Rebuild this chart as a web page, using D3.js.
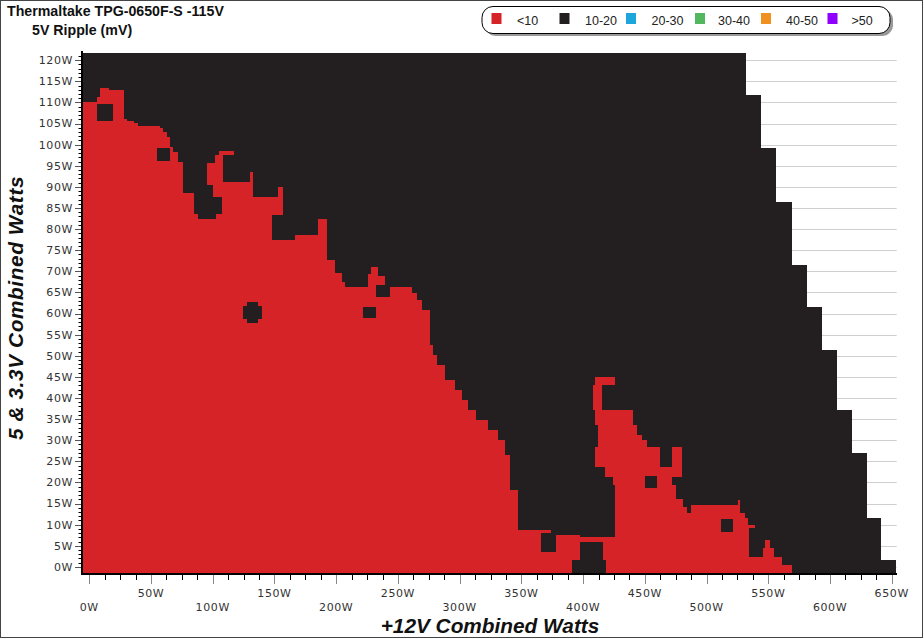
<!DOCTYPE html>
<html><head><meta charset="utf-8">
<script src="https://cdn.jsdelivr.net/npm/d3@7"></script>
<style>body{margin:0;background:#fff}svg{display:block}</style>
</head><body><svg id="c" width="924" height="639"></svg>
<script>
const chartTitle = "Thermaltake TPG-0650F-S -115V";
const chartSubtitle = "5V Ripple (mV)";
const xTitle = "+12V Combined Watts";
const yTitle = "5 & 3.3V Combined Watts";
const xTicks = [0,50,100,150,200,250,300,350,400,450,500,550,600,650];
const yTicks = [0,5,10,15,20,25,30,35,40,45,50,55,60,65,70,75,80,85,90,95,100,105,110,115,120];
const legendLabels = ["<10","10-20","20-30","30-40","40-50",">50"];
const legendColors = ["#d62328","#231f20","#1ca6dc","#52b75f","#f0911f","#8f00ff"];

// load limit (measured area): each band runs from previous band's lower y down to limitMinY, x up to limitMaxX
const limitMinY = [111.7, 99.2, 86.4, 71.5, 61.5, 51.4, 37.2, 27.0, 11.6, 1.7, -1.45];
const limitMaxX = [532, 544.1, 556.3, 569.2, 581.4, 593.5, 605.7, 617.8, 630, 641.3, 653.5];

// "<10" main region, top profile: [x0, x1, yTop] (red from bottom up to yTop)
const redColumns = [
  [-5.1,6.2,110.1],[6.2,8.7,111.3],[8.7,16.0,113.4],[16.0,28.1,113.0],[28.1,30.5,106.1],
  [30.5,36.2,105.6],[36.2,39.4,105.1],[39.4,57.3,104.4],[57.3,59.7,103.9],[59.7,62.9,103.0],
  [62.9,65.4,101.8],[65.4,67.8,99.5],[67.8,71.9,98.3],[71.9,75.9,95.9],[75.9,84.8,88.6],
  [84.8,88.1,83.6],[88.1,102.6,82.4],[102.6,107.2,83.6],[107.2,130.2,91.2],[130.2,132.6,93.5],
  [132.6,152.8,87.7],[152.8,156.7,90.0],[156.7,166.6,77.4],[166.6,185.3,78.6],[185.3,192.3,82.3],
  [192.3,199.0,72.7],[199.0,204.5,69.6],[204.5,207.1,67.5],[207.1,225.8,66.3],[225.8,228.2,69.3],
  [228.2,233.8,71.0],[233.8,239.5,69.0],[239.5,261.4,66.3]
];
// "<10" main region, right profile: [yLow, yHigh, xRight] (red from left edge to xRight)
const redRows = [
  [64.9,66.3,261.4],[63.2,64.9,265.4],[60.9,63.2,269.5],[52.6,60.9,275.9],[50.2,52.6,278.4],
  [47.8,50.2,281.6],[44.3,47.8,288.1],[41.9,44.3,296.3],[39.5,41.9,301.9],[37.2,39.5,306.8],
  [34.8,37.2,313.2],[32.4,34.8,323.0],[30.1,32.4,331.1],[26.5,30.1,336.7],[18.2,26.5,340.8],
  [8.8,18.2,347.3],[-1.45,8.8,397.5]
];
// "10-20" cuts inside the red region: [x0, x1, yLow, yHigh]
const blackCuts = [
  [148.0,156.7,77.4,83.4],[373.9,399.9,7.6,8.8]
];
// additional "<10" areas: [x0, x1, yLow, yHigh]
const redPatches = [
  [95.1,108.3,90.5,95.7],[100.4,108.3,87.6,90.5],[102.0,108.3,95.7,97.6],[105.2,117.2,97.6,98.5],
  [409.6,425.8,43.1,45.0],[408.0,415.1,37.2,43.1],[409.6,440.4,33.6,37.2],[412.1,443.7,31.3,33.6],
  [412.1,447.7,30.1,31.3],[412.1,451.9,28.4,30.1],[409.6,462.3,23.7,28.4],[472.0,480.1,23.7,28.4],
  [417.7,480.1,21.3,23.7],[424.2,472.0,19.4,21.3],[425.8,475.3,16.1,19.4],[425.8,481.0,14.2,16.1],
  [425.8,484.2,12.8,14.2],[487.0,527.1,12.8,14.7],[525.5,527.1,14.7,15.9],[425.8,531.1,11.6,12.8],
  [425.8,533.6,9.9,11.6],[425.8,539.2,9.2,9.9],[425.8,534.4,5.9,9.2],[397.5,534.4,5.9,7.1],
  [416.1,534.4,2.4,5.9],[416.1,561.0,0.4,2.4],[416.1,569.2,-1.45,0.4],
  [547.3,551.4,4.5,6.4],[545.7,554.5,2.4,4.5]
];
// "10-20" islands: [x0, x1, yLow, yHigh]
const blackIslands = [
  [6.2,19.2,105.6,109.6],[55.1,65.4,96.2,99.2],
  [124.5,139.9,58.7,61.8],[127.7,136.6,61.8,62.7],[127.7,136.6,57.8,58.7],
  [232.2,243.6,63.9,66.8],[221.7,232.2,59.0,61.6],
  [365.9,378.0,3.6,8.1],[391.0,418.5,-1.45,1.7],[397.5,415.1,1.7,2.8],
  [450.2,459.9,18.7,21.6],[511.7,521.4,8.3,11.4]
];

const svg = d3.select("#c");
const W = 924, H = 639;
const x = d3.scaleLinear().domain([-5.1, 654]).range([83, 896.7]);
const y = d3.scaleLinear().domain([-1.45, 121.7]).range([573, 53]);
const RED = legendColors[0], BLACK = legendColors[1];

svg.append("rect").attr("x",0.5).attr("y",0.5).attr("width",W-2).attr("height",H-2)
  .attr("fill","#fff").attr("stroke","#444");

// gridlines
svg.append("g").selectAll("line").data(yTicks).join("line")
  .attr("x1",x(-5.1)).attr("x2",x(654)).attr("y1",d=>Math.round(y(d))+0.5).attr("y2",d=>Math.round(y(d))+0.5)
  .attr("stroke","#cfcfcf").attr("stroke-width",1);

const heat = svg.append("g").attr("shape-rendering","crispEdges");
function rects(data, acc, color){
  heat.append("g").selectAll("rect").data(data).join("rect")
    .attr("x",d=>x(acc(d)[0])).attr("width",d=>x(acc(d)[1])-x(acc(d)[0]))
    .attr("y",d=>y(acc(d)[3])).attr("height",d=>y(acc(d)[2])-y(acc(d)[3]))
    .attr("fill",color);
}
const limitBands = limitMinY.map((v,i)=>[-5.1, limitMaxX[i], v, i===0?121.7:limitMinY[i-1]]);
rects(limitBands, d=>d, BLACK);
rects(redColumns, d=>[d[0],d[1],-1.45,d[2]], RED);
rects(redRows, d=>[-5.1,d[2],d[0],d[1]], RED);
rects(blackCuts, d=>d, BLACK);
rects(redPatches, d=>d, RED);
rects(blackIslands, d=>d, BLACK);

// axes
const tickFont = "'DejaVu Sans', Verdana, sans-serif";
const ya = svg.append("g");
ya.selectAll("line.mn").data(d3.range(0,122,1)).join("line")
  .attr("x1",78.5).attr("x2",82).attr("y1",d=>Math.round(y(d))+0.5).attr("y2",d=>Math.round(y(d))+0.5)
  .attr("stroke","#000");
ya.selectAll("line.mj").data(yTicks).join("line")
  .attr("x1",75).attr("x2",82).attr("y1",d=>Math.round(y(d))+0.5).attr("y2",d=>Math.round(y(d))+0.5)
  .attr("stroke","#555");
ya.selectAll("text").data(yTicks).join("text")
  .attr("x",73).attr("y",d=>y(d)).attr("dy","0.36em").attr("text-anchor","end")
  .attr("font-family",tickFont).attr("font-size",11).attr("letter-spacing",0.6).attr("fill","#333")
  .text(d=>d+"W");
svg.append("line").attr("x1",82).attr("x2",82).attr("y1",51).attr("y2",575).attr("stroke","#000").attr("stroke-width",2);

const xa = svg.append("g");
xa.selectAll("line.mn").data(d3.range(0,651,12.5)).join("line")
  .attr("y1",575).attr("y2",580).attr("x1",d=>Math.round(x(d))+0.5).attr("x2",d=>Math.round(x(d))+0.5)
  .attr("stroke","#000");
xa.selectAll("line.mj").data(xTicks).join("line")
  .attr("y1",575).attr("y2",584).attr("x1",d=>Math.round(x(d))+0.5).attr("x2",d=>Math.round(x(d))+0.5)
  .attr("stroke","#888");
xa.selectAll("text").data(xTicks).join("text")
  .attr("x",d=>x(d)).attr("y",(d,i)=>i%2 ? 597 : 611).attr("text-anchor","middle")
  .attr("font-family",tickFont).attr("font-size",11).attr("letter-spacing",0.6).attr("fill","#333")
  .text(d=>d+"W");
svg.append("line").attr("x1",81).attr("x2",897).attr("y1",574).attr("y2",574).attr("stroke","#000").attr("stroke-width",2);

// titles
const sans = "Arial, 'Liberation Sans', sans-serif";
svg.append("text").attr("x",7).attr("y",16).attr("font-family",sans)
  .attr("font-weight","bold").attr("font-size",14.2).attr("fill","#111").text(chartTitle);
svg.append("text").attr("x",32).attr("y",35).attr("font-family",sans)
  .attr("font-weight","bold").attr("font-size",14.2).attr("fill","#111").text(chartSubtitle);
svg.append("text").attr("x",490).attr("y",633).attr("text-anchor","middle")
  .attr("font-family",sans).attr("font-weight","bold").attr("font-style","italic")
  .attr("font-size",20.8).attr("fill","#111").text(xTitle);
svg.append("text").attr("transform","translate(23,308) rotate(-90)").attr("text-anchor","middle")
  .attr("font-family",sans).attr("font-weight","bold").attr("font-style","italic")
  .attr("font-size",20.8).attr("letter-spacing",0.6).attr("fill","#111").text(yTitle);

// legend
const lg = svg.append("g");
lg.append("rect").attr("x",485).attr("y",9).attr("width",408).attr("height",27).attr("rx",11).attr("fill","#999");
lg.append("rect").attr("x",482).attr("y",6.5).attr("width",408).attr("height",27).attr("rx",11)
  .attr("fill","#fff").attr("stroke","#000").attr("stroke-width",1);
const legX = [491.5, 559.5, 626, 695, 761, 827.5];
const legTX = [517, 585, 651.5, 718, 786, 851.5];
legendLabels.forEach((t,i)=>{
  lg.append("rect").attr("x",legX[i]).attr("y",13).attr("width",10).attr("height",11).attr("fill",legendColors[i]);
  lg.append("text").attr("x",legTX[i]).attr("y",25).attr("font-family",sans)
    .attr("font-size",12.5).attr("fill","#222").text(t);
});
</script></body></html>
